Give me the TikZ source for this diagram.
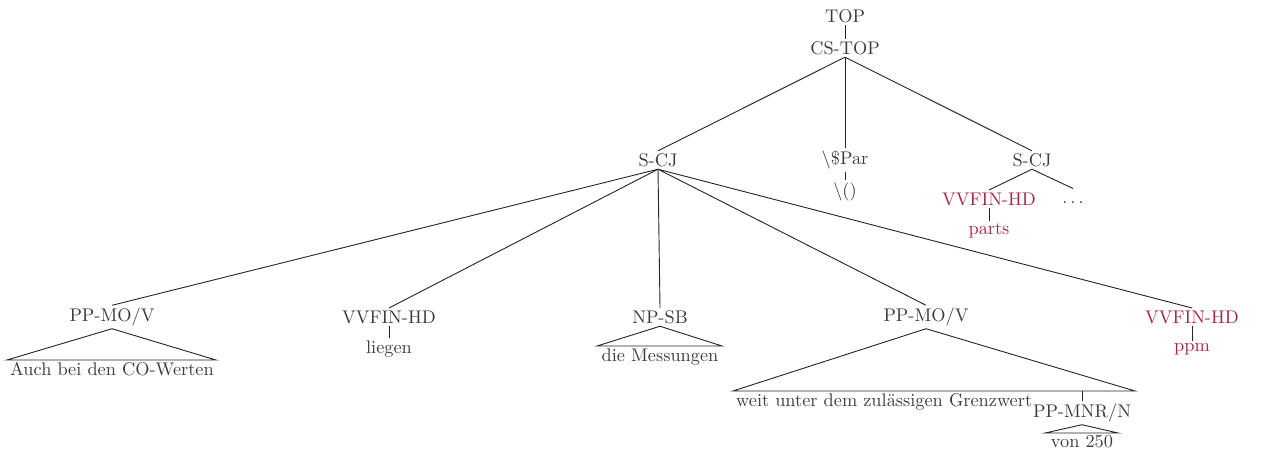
\documentclass[tikz,border=0pt]{standalone}
\usetikzlibrary{calc}
\definecolor{labelgray}{RGB}{60,60,60}
\definecolor{headred}{RGB}{168,38,72}
\begin{document}
\begin{tikzpicture}[x=0.546pt,y=-0.546pt,
  lab/.style={inner xsep=2.6pt,inner ysep=1.2pt,text=labelgray,font=\fontsize{10}{12}\selectfont},
  red/.style={lab,text=headred},
  edge/.style={draw=black!85,line width=0.5pt},
  roof/.style={draw=black!85,line width=0.5pt}]
\useasboundingbox (0,0) rectangle (1262,449);

% upper part of the tree
\node[lab] (top) at (845,16) {TOP};
\node[lab] (cstop) at (845,48) {CS-TOP};
\node[lab] (scjl) at (658,160) {S-CJ};
\node[lab] (par) at (845,160) {\textbackslash\$Par};
\node[lab] (paren) at (845,192) {\textbackslash()};
\node[lab] (scjr) at (1032,160) {S-CJ};
\node[red] (vvr) at (989,199) {VVFIN-HD};
\node[lab,anchor=base,text height=6.5pt,text depth=0pt] (dots) at (1073,203) {$\ldots$};
\node[red] (parts) at (989,231) {parts};

\draw[edge] (top) -- (cstop);
\draw[edge] (cstop.south) -- (scjl.north);
\draw[edge] (cstop.south) -- (par.north);
\draw[edge] (cstop.south) -- (scjr.north);
\draw[edge] (par) -- (paren);
\draw[edge] (scjr.south) -- (vvr.north);
\draw[edge] (scjr.south) -- (dots.north);
\draw[edge] (vvr) -- (parts);

% daughters of the left conjunct
\node[lab] (ppmo) at (112,317) {PP-MO/V};
\node[lab] (vvfin) at (389,317) {VVFIN-HD};
\node[lab] (npsb) at (660,317) {NP-SB};
\node[lab] (ppmob) at (926,317) {PP-MO/V};
\node[red] (vvfinb) at (1192,317) {VVFIN-HD};
\node[lab] (liegen) at (389,349) {liegen};
\node[red] (ppm) at (1192,349) {ppm};

\foreach \c in {ppmo,vvfin,npsb,ppmob,vvfinb}
  \draw[edge] (scjl.south) -- (\c.north);
\draw[edge] (vvfin) -- (liegen);
\draw[edge] (vvfinb) -- (ppm);

% roofed yields
\coordinate (ra1) at (7,360);  \coordinate (ra2) at (216,360);
\draw[roof] (ppmo.south) -- (ra1) -- (ra2) -- cycle;
\node[lab,anchor=north] (auch) at (112,360) {Auch bei den CO-Werten};

\coordinate (rb1) at (597,346); \coordinate (rb2) at (722,346);
\draw[roof] (npsb.south) -- (rb1) -- (rb2) -- cycle;
\node[lab,anchor=north] (mess) at (660,346) {die Messungen};

\coordinate (rc1) at (733,391); \coordinate (rc2) at (1135,391);
\draw[roof] (ppmob.south) -- (rc1) -- (rc2) -- cycle;
\node[lab,anchor=north west] (weit) at (731,391) {weit unter dem zul\"assigen Grenzwert};
\coordinate (mnrtop) at (1082,391);
\node[lab] (ppmnr) at (1082,413) {PP-MNR/N};
\draw[edge] (mnrtop) -- (ppmnr.north);
\coordinate (rd1) at (1045,433); \coordinate (rd2) at (1118,433);
\draw[roof] (ppmnr.south) -- (rd1) -- (rd2) -- cycle;
\node[lab,anchor=north,inner ysep=1pt] (von) at (1082,433) {von 250};
\end{tikzpicture}
\end{document}
